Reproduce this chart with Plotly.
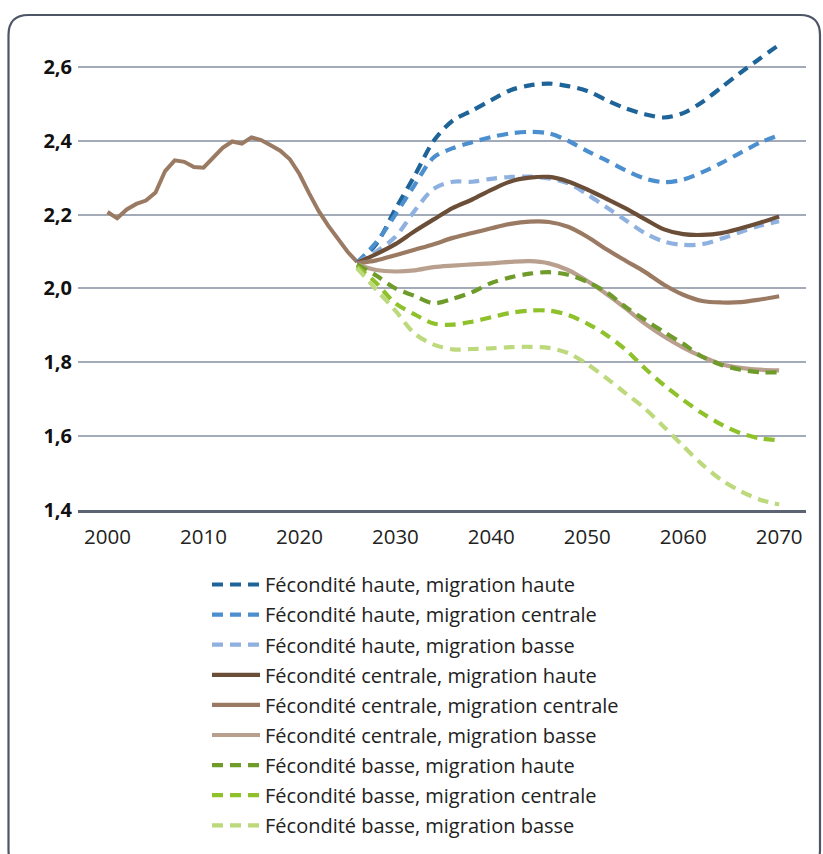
import plotly.graph_objects as go

# ---------------- data ----------------
hist_years = list(range(2000, 2027))
hist_values = [2.207, 2.19, 2.214, 2.229, 2.238, 2.26, 2.318, 2.347, 2.343, 2.329,
               2.327, 2.356, 2.381, 2.398, 2.392, 2.409, 2.402, 2.388, 2.373, 2.35,
               2.31, 2.258, 2.21, 2.17, 2.135, 2.10, 2.072]

proj_years = list(range(2026, 2071, 2))

fh_mh = [2.07, 2.12, 2.215, 2.305, 2.40, 2.455, 2.482, 2.51, 2.537, 2.55, 2.555, 2.548,
         2.535, 2.51, 2.488, 2.472, 2.463, 2.475, 2.505, 2.545, 2.585, 2.623, 2.66]
fh_mc = [2.07, 2.125, 2.20, 2.28, 2.355, 2.38, 2.396, 2.41, 2.42, 2.424, 2.42, 2.40,
         2.372, 2.347, 2.32, 2.298, 2.288, 2.295, 2.315, 2.34, 2.368, 2.395, 2.415]
fh_mb = [2.07, 2.10, 2.14, 2.21, 2.27, 2.289, 2.289, 2.297, 2.302, 2.303, 2.298, 2.285,
         2.255, 2.22, 2.185, 2.15, 2.127, 2.118, 2.12, 2.135, 2.153, 2.17, 2.182]
fc_mh = [2.07, 2.093, 2.12, 2.155, 2.187, 2.218, 2.241, 2.267, 2.29, 2.30, 2.302, 2.29,
         2.268, 2.243, 2.217, 2.188, 2.16, 2.147, 2.145, 2.15, 2.163, 2.178, 2.195]
fc_mc = [2.068, 2.076, 2.09, 2.105, 2.12, 2.137, 2.15, 2.163, 2.175, 2.181, 2.18, 2.167,
         2.14, 2.106, 2.075, 2.045, 2.01, 1.983, 1.966, 1.962, 1.963, 1.97, 1.979]
fc_mb = [2.065, 2.05, 2.046, 2.049, 2.058, 2.062, 2.065, 2.068, 2.072, 2.074, 2.068, 2.05,
         2.02, 1.985, 1.946, 1.905, 1.87, 1.84, 1.815, 1.795, 1.785, 1.78, 1.778]
fb_mh = [2.065, 2.035, 2.0, 1.98, 1.96, 1.972, 1.99, 2.015, 2.03, 2.04, 2.044, 2.037,
         2.018, 1.99, 1.95, 1.915, 1.882, 1.85, 1.815, 1.793, 1.78, 1.773, 1.773]
fb_mc = [2.06, 2.015, 1.96, 1.93, 1.905, 1.902, 1.91, 1.922, 1.934, 1.94, 1.94, 1.928,
         1.905, 1.874, 1.834, 1.784, 1.738, 1.698, 1.662, 1.631, 1.608, 1.594, 1.589]
fb_mb = [2.055, 1.997, 1.94, 1.878, 1.848, 1.835, 1.836, 1.838, 1.841, 1.842, 1.839, 1.825,
         1.795, 1.757, 1.716, 1.675, 1.625, 1.573, 1.523, 1.481, 1.451, 1.428, 1.415]

series_names = [
    "Fécondité haute, migration haute",
    "Fécondité haute, migration centrale",
    "Fécondité haute, migration basse",
    "Fécondité centrale, migration haute",
    "Fécondité centrale, migration centrale",
    "Fécondité centrale, migration basse",
    "Fécondité basse, migration haute",
    "Fécondité basse, migration centrale",
    "Fécondité basse, migration basse",
]
series_values = [fh_mh, fh_mc, fh_mb, fc_mh, fc_mc, fc_mb, fb_mh, fb_mc, fb_mb]
series_colors = ["#1f6499", "#4b8fcf", "#8eb1e0",
                 "#6b4e38", "#9a7a62", "#b9a08e",
                 "#6e9b2a", "#8ec12a", "#bcd97c"]
series_dashed = [True, True, True, False, False, False, True, True, True]

x_ticks = [2000, 2010, 2020, 2030, 2040, 2050, 2060, 2070]
y_ticks = [1.4, 1.6, 1.8, 2.0, 2.2, 2.4, 2.6]
y_ticktext = ["1,4", "1,6", "1,8", "2,0", "2,2", "2,4", "2,6"]

FONT = "Open Sans"

fig = go.Figure()

fig.add_trace(go.Scatter(
    x=hist_years, y=hist_values, mode="lines",
    line=dict(color="#9a7a62", width=4), showlegend=False, hoverinfo="skip"))

for i, (name, vals, col, dashed) in enumerate(zip(series_names, series_values,
                                                   series_colors, series_dashed)):
    fig.add_trace(go.Scatter(
        x=proj_years, y=vals, mode="lines", name=name,
        legendgroup=f"g{i}",
        line=dict(color=col, width=4.2, shape="spline", smoothing=0.9,
                  dash="11px,7px" if dashed else "solid")))

# rounded frame (paper coordinates relative to plot area 78..806 x 30..510)
L, T, W, H = 78, 30, 728, 480
def px(x):
    return (x - L) / W
def py(y):
    return (T + H - y) / H
x0, x1, y0, y1, r = 8.5, 820, 15, 870, 20
path = (f"M{px(x0)},{py(y0 + r)} Q{px(x0)},{py(y0)} {px(x0 + r)},{py(y0)} "
        f"L{px(x1 - r)},{py(y0)} Q{px(x1)},{py(y0)} {px(x1)},{py(y0 + r)} "
        f"L{px(x1)},{py(y1 - r)} Q{px(x1)},{py(y1)} {px(x1 - r)},{py(y1)} "
        f"L{px(x0 + r)},{py(y1)} Q{px(x0)},{py(y1)} {px(x0)},{py(y1 - r)} Z")
fig.add_shape(type="path", path=path, xref="paper", yref="paper",
              line=dict(color="#4d5566", width=2.2), layer="below")

fig.update_layout(
    width=823, height=854,
    margin=dict(l=L, r=823 - L - W, t=T, b=854 - T - H, autoexpand=False),
    paper_bgcolor="white", plot_bgcolor="white",
    font=dict(family=FONT, color="#222222"),
    showlegend=True,
    legend=dict(x=(207 - L) / W, xanchor="left", y=py(565), yanchor="top",
                font=dict(family=FONT, size=20, color="#222222"),
                tracegroupgap=1.1, itemwidth=48, bgcolor="rgba(0,0,0,0)"),
    xaxis=dict(range=[1996.92, 2072.8], tickvals=x_ticks, showgrid=False,
               zeroline=False, showline=True, linecolor="#5c6372", linewidth=2.5,
               ticks="", tickfont=dict(family=FONT, size=20.5, color="#222222"),
               ticklabelstandoff=7, fixedrange=True),
    yaxis=dict(range=[1.4, 2.7], tickvals=y_ticks, ticktext=y_ticktext,
               showgrid=True, gridcolor="#a3aab8", gridwidth=2,
               zeroline=False, showline=False, ticks="",
               tickfont=dict(family=FONT, size=20, color="#111111", weight=700),
               ticklabelstandoff=5, fixedrange=True),
)

fig.write_html("out.html", config={"displayModeBar": False},
               post_script="document.body.style.margin='0';"
                           "document.body.style.overflow='hidden';")
